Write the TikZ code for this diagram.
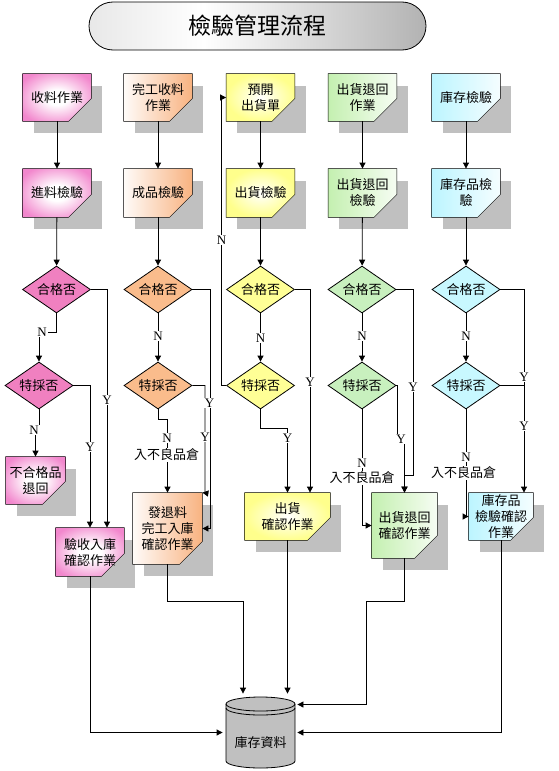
\documentclass[tikz,border=0pt]{standalone}
\usepackage{fontspec}
\setmainfont{Liberation Serif}
\newfontfamily\cjk{Noto Sans CJK TC}
\usetikzlibrary{shapes.geometric,arrows.meta,backgrounds,calc}
\definecolor{pinkB}{RGB}{242,135,205}
\definecolor{pinkD}{RGB}{240,128,192}
\definecolor{orangeB}{RGB}{248,178,128}
\definecolor{orangeD}{RGB}{250,188,140}
\definecolor{yellowB}{RGB}{255,255,140}
\definecolor{yellowD}{RGB}{255,255,150}
\definecolor{greenB}{RGB}{196,240,176}
\definecolor{greenD}{RGB}{200,240,190}
\definecolor{cyanB}{RGB}{188,245,255}
\definecolor{cyanD}{RGB}{200,248,255}
\definecolor{shadowc}{RGB}{192,192,192}
\definecolor{dbgray}{RGB}{192,192,192}
\colorlet{tsA}{gray!18}
\colorlet{tsB}{white}
\colorlet{tsC}{gray!60}
\pgfdeclarehorizontalshading{titleshade}{100bp}{color(0bp)=(tsA); color(25bp)=(tsA); color(42bp)=(tsB); color(75bp)=(tsC); color(100bp)=(tsC)}
\pgfdeclareradialshading{pinkshade}{\pgfpoint{0bp}{0bp}}{color(0bp)=(white); color(8bp)=(white); color(30bp)=(pinkB); color(50bp)=(pinkB)}
\newcommand\flowbox[6]{%
  \node[boxt, minimum width=#3pt, minimum height=#4pt] (#1) at (#2) {#6};
  \begin{scope}[on background layer]
    \fill[shadowc] ([shift={(11,12)}]#1.north west) rectangle ([shift={(11,12)}]#1.south east);
    \path[#5, draw=black] (#1.north west) -- (#1.north east) -- ([yshift=23pt]#1.south east) -- ([xshift=-23pt]#1.south east) -- (#1.south west) -- cycle;
  \end{scope}}
\begin{document}
\begin{tikzpicture}[x=1pt, y=-1pt, line width=0.8pt,
  font={\cjk\fontsize{13pt}{16pt}\selectfont},
  boxt/.style={inner sep=0pt, align=center},
  diam/.style={diamond, draw, inner sep=0pt, minimum width=68pt, minimum height=47pt, shape aspect=1.45},
  yn/.style={font={\normalfont\fontsize{13pt}{13pt}\selectfont}, fill=white, inner sep=1pt},
  lab/.style={fill=white, inner sep=1pt},
  arr/.style={-{Triangle[length=6pt,width=6pt]}},
  fpink/.style={shading=pinkshade},
  forange/.style={left color=orangeB!5!white, right color=orangeB},
  fyellow/.style={inner color=white, outer color=yellowB},
  fgreen/.style={left color=greenB, right color=greenB!15!white},
  fcyan/.style={left color=cyanB, right color=cyanB!15!white}]
\useasboundingbox (0,0) rectangle (559,771);

% title
\node[draw, rounded corners=24pt, shading=titleshade, minimum width=337pt, minimum height=48pt,
  font={\cjk\fontsize{23pt}{23pt}\selectfont}] (title) at (257.5,26) {檢驗管理流程};

% row 1
\flowbox{t1}{57,97.5}{68}{47}{fpink}{收料作業}
\flowbox{t2}{158,97.5}{68}{47}{forange}{完工收料\\作業}
\flowbox{t3}{260.5,97.5}{68}{47}{fyellow}{預開\\出貨單}
\flowbox{t4}{362.5,97.5}{68}{47}{fgreen}{出貨退回\\作業}
\flowbox{t5}{466,97.5}{68}{47}{fcyan}{庫存檢驗}
% row 2
\flowbox{i1}{57,193}{68}{48}{fpink}{進料檢驗}
\flowbox{i2}{158,193}{68}{48}{forange}{成品檢驗}
\flowbox{i3}{260.5,193}{68}{48}{fyellow}{出貨檢驗}
\flowbox{i4}{362.5,193}{68}{48}{fgreen}{出貨退回\\檢驗}
\flowbox{i5}{466,193}{68}{48}{fcyan}{庫存品檢\\驗}
% diamonds
\node[diam, fill=pinkD] (q1) at (56.5,289.5) {合格否};
\node[diam, fill=orangeD] (q2) at (158,289.5) {合格否};
\node[diam, fill=yellowD] (q3) at (260.5,289.5) {合格否};
\node[diam, fill=greenD] (q4) at (362,289.5) {合格否};
\node[diam, fill=cyanD] (q5) at (466,289.5) {合格否};
\node[diam, fill=pinkD] (s1) at (39,385.5) {特採否};
\node[diam, fill=orangeD] (s2) at (158,385.5) {特採否};
\node[diam, fill=yellowD] (s3) at (260.5,385.5) {特採否};
\node[diam, fill=greenD] (s4) at (362,385.5) {特採否};
\node[diam, fill=cyanD] (s5) at (466,385.5) {特採否};
% result boxes
\flowbox{r1a}{35.5,480.5}{59}{47}{fpink}{不合格品\\退回}
\flowbox{r1b}{90,552}{68}{48}{fpink}{驗收入庫\\確認作業}
\flowbox{r2}{167.5,528.5}{69}{71}{forange}{發退料\\完工入庫\\確認作業}
\flowbox{r3}{287.5,516.5}{85}{47}{fyellow}{出貨\\確認作業}
\flowbox{r4}{404.5,525.5}{65}{65}{fgreen}{出貨退回\\確認作業}
\flowbox{r5}{501,516.5}{64}{47}{fcyan}{庫存品\\檢驗確認\\作業}

% database cylinder
\node[minimum width=69pt, minimum height=71pt, inner sep=0pt] (db) at (260.5,732.5) {};
\filldraw[fill=dbgray] (226,704) -- (226,761) arc[start angle=180, end angle=360, x radius=34.5pt, y radius=7pt]
  -- (295,704) arc[start angle=0, end angle=180, x radius=34.5pt, y radius=7pt] -- cycle;
\draw (226,704) arc[start angle=180, end angle=360, x radius=34.5pt, y radius=7pt];
\draw (226,708) arc[start angle=180, end angle=360, x radius=34.5pt, y radius=7pt];
\node (dbt) at (260.5,743) {庫存資料};
\coordinate (dbtop) at ([yshift=3pt]db.north);
\coordinate (dbr1) at ([xshift=2pt,yshift=28pt]db.east);
\coordinate (dbr2) at ([xshift=2pt]db.east);
\coordinate (dbl) at ([xshift=-3pt]db.west);

% vertical flow
\foreach \c in {1,...,5} {\draw[arr] (t\c) -- (i\c); \draw[arr] (i\c) -- (q\c);}

% column 1
\draw[arr] (q1.south) -- ++(0,19) -| (s1.north);
\node[yn] (l1) at (42,332) {N};
\draw[arr] (s1.south) -- ++(0,16) -| (r1a.north);
\node[yn] (l2) at (34,430) {N};
\draw[arr] (s1.east) -| (r1b.north);
\node[yn] (l3) at (90,447) {Y};
\draw[arr] (q1.east) -| ([xshift=17pt]r1b.north);
\node[yn] (l4) at (107,400) {Y};

% column 2
\draw[arr] (q2) -- (s2);
\node[yn] (l5) at (158,336) {N};
\draw[arr] (s2.south) -- ++(0,9.5) -| (r2.north);
\node[yn] (l6) at (167,438) {N};
\node[lab] (l7) at (166.5,455) {入不良品倉};
\draw[arr] (s2.east) -- (205,385.5) -- (205,493) -- (r2.north east);
\node[yn] (l8) at (205,437) {Y};
\draw[arr] (q2.east) -| ([xshift=7.5pt]r2.east) -- (r2.east);
\node[yn] (l9) at (209.5,403) {Y};

% column 3
\draw[arr] (q3) -- (s3);
\node[yn] (l10) at (260.5,338) {N};
\draw[arr] (s3.west) -- ++(-5,0) |- (t3.west);
\node[yn] (l11) at (221.5,240) {N};
\draw[arr] (q3.east) -| ([xshift=22.5pt]r3.north);
\node[yn] (l12) at (310,382) {Y};
\draw[arr] (s3.south) -- ++(0,18.5) -| (r3.north);
\node[yn] (l13) at (287.5,438) {Y};

% column 4
\draw[arr] (q4) -- (s4);
\node[yn] (l14) at (362,336) {N};
\draw[arr] (q4.east) -- (413,289.5) -- (413,475) -- (404.5,475) -- (r4.north);
\node[yn] (l15) at (413,387) {Y};
\draw[arr] (s4.east) -- (397.5,385.5) -- (397.5,439) -- (404.5,439) -- (r4.north);
\node[yn] (l16) at (401,439) {Y};
\draw[arr] (s4.south) |- (r4.west);
\node[yn] (l17) at (362,463) {N};
\node[lab] (l18) at (362,478) {入不良品倉};

% column 5
\draw[arr] (q5) -- (s5);
\node[yn] (l19) at (466,336) {N};
\draw[arr] (q5.east) -| ([xshift=23pt]r5.north);
\draw (s5.east) -- (524,385.5);
\node[yn] (l20) at (524,377) {Y};
\node[yn] (l21) at (524,426) {Y};
\draw[arr] (s5.south) |- (r5.west);
\node[yn] (l22) at (466,457) {N};
\node[lab] (l23) at (463.5,473) {入不良品倉};

% to database
\draw[arr] (r1b.south) |- (dbl);
\draw[arr] (r2.south) -- ++(0,37) -| ([xshift=-17.5pt]dbtop);
\draw[arr] (r3.south) -- (r3.south |- dbtop);
\draw[arr] (r4.south) |- (366,601) |- (dbr1);
\draw[arr] (r5.south) |- (dbr2);
\end{tikzpicture}
\end{document}
